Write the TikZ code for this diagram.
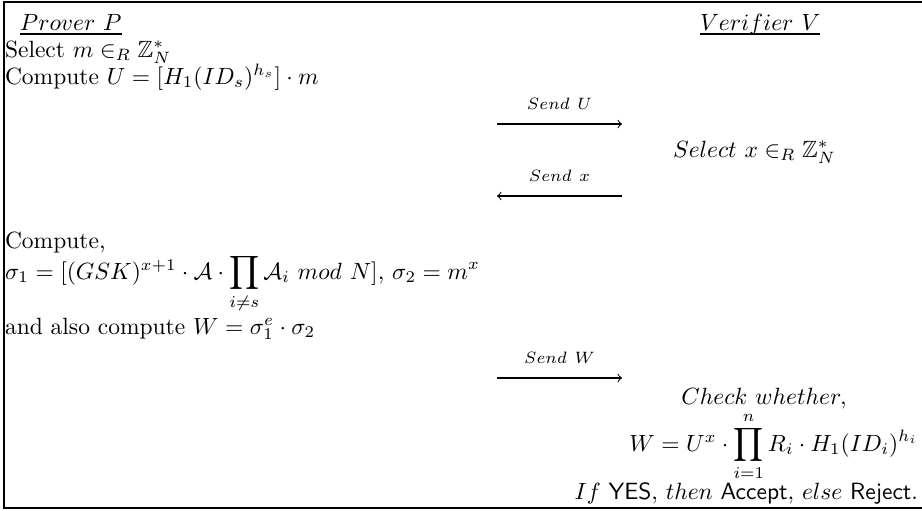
\documentclass[tikz,border=0pt]{standalone}
\usepackage{amsmath,amssymb}
\begin{document}
\begin{tikzpicture}[x=0.4255pt,y=-0.4255pt,
  txt/.style={inner sep=0pt,outer sep=0pt,anchor=base west},
  txtr/.style={inner sep=0pt,outer sep=0pt,anchor=base east},
  txtc/.style={inner sep=0pt,outer sep=0pt,anchor=base},
  frame/.style={line width=0.85pt},
  uline/.style={line width=0.85pt},
  msg/.style={line width=0.45pt,-to},
  lbl/.style={inner sep=0pt,anchor=base}]
\useasboundingbox (0,0) rectangle (922,510);
\draw[frame] (925,2) -- (4,2) -- (4,508) -- (925,508);
% headers
\node[txt] (prover) at (20,30) {$Prover\ P$};
\draw[uline] ([yshift=-1.9pt]prover.base west) -- ([yshift=-1.9pt]prover.base east);
\node[txt] (verifier) at (700,30) {$Verifier\ V$};
\draw[uline] ([yshift=-1.9pt]verifier.base west) -- ([yshift=-1.9pt]verifier.base east);
% prover step 1
\node[txt] (selm) at (5,57) {Select $m \in_R \mathbb{Z}_N^*$};
\node[txt] (compU) at (5,84) {Compute $U = [H_1(ID_s)^{h_s}]\cdot m$};
% send U
\coordinate (u1) at (497,124);
\coordinate (u2) at (622,124);
\draw[msg] (u1) -- (u2);
\node[lbl] (sendU) at (559.5,109) {$\scriptstyle Send\ U$};
% verifier select
\node[txt] (selx) at (673,157) {$Select\ x \in_R \mathbb{Z}_N^*$};
% send x
\coordinate (x1) at (622,196);
\coordinate (x2) at (497,196);
\draw[msg] (x1) -- (x2);
\node[lbl] (sendx) at (559.5,181) {$\scriptstyle Send\ x$};
% prover step 2
\node[txt] (comp) at (5,248) {Compute,};
\node[txt] (sig) at (5,279) {$\sigma_1 = [(GSK)^{x+1}\cdot \mathcal{A}\cdot \displaystyle\prod_{i\neq s}\mathcal{A}_i\ mod\ N],\, \sigma_2 = m^x$};
\node[txt] (compW) at (5,334) {and also compute $W = \sigma_1^e\cdot\sigma_2$};
% send W
\coordinate (w1) at (497,378);
\coordinate (w2) at (622,378);
\draw[msg] (w1) -- (w2);
\node[lbl] (sendW) at (559.5,363) {$\scriptstyle Send\ W$};
% verifier check
\node[txtc] (check) at (764,404) {$Check\ whether,$};
\node[txtr] (eq) at (918,451) {$W = U^x\cdot\displaystyle\prod_{i=1}^{n}R_i\cdot H_1(ID_i)^{h_i}$};
\node[txtr] (res) at (918,499) {$If$ \textsf{YES}$,\,then$ \textsf{Accept}$,\,else$ \textsf{Reject}.};
\end{tikzpicture}
\end{document}
